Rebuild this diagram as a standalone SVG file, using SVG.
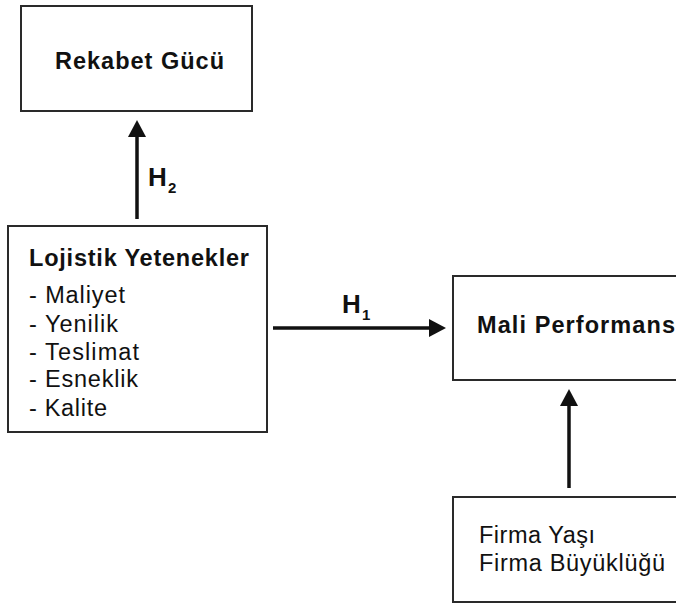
<svg xmlns="http://www.w3.org/2000/svg" width="676" height="603" viewBox="0 0 676 603">
<style>
.box{fill:#fff;stroke:#2a2a2a;stroke-width:2}
.t{font-family:"Liberation Sans",Arial,Helvetica,sans-serif;fill:#111;font-size:23.5px}
.b{font-weight:bold}
.h{font-family:"Liberation Sans",Arial,Helvetica,sans-serif;fill:#111;font-weight:bold;font-size:26px}
.sub{font-size:15px}
.con{stroke:#111;stroke-width:3.5;fill:none;marker-end:url(#ah)}
</style>
<defs>
<marker id="ah" markerUnits="userSpaceOnUse" markerWidth="17" markerHeight="18" refX="0" refY="9" orient="auto">
<path d="M0,0 L17,9 L0,18 z" fill="#111"/>
</marker>
</defs>
<rect width="676" height="603" fill="#fff"/>
<g id="connectors">
<line class="con" x1="137" y1="219" x2="137" y2="137"/>
<line class="con" x1="273" y1="328" x2="429" y2="328"/>
<line class="con" x1="569" y1="488" x2="569" y2="406"/>
<text class="h" x="148" y="186">H<tspan class="sub" x="168" y="193">2</tspan></text>
<text class="h" x="342" y="313">H<tspan class="sub" x="362" y="320">1</tspan></text>
</g>
<g id="rekabet">
<rect class="box" x="21" y="6" width="231" height="105"/>
<text class="t b" x="55" y="69" textLength="169" lengthAdjust="spacing">Rekabet Gücü</text>
</g>
<g id="lojistik">
<rect class="box" x="8" y="226" width="259" height="206"/>
<text class="t b" x="29" y="266" textLength="220" lengthAdjust="spacing">Lojistik Yetenekler</text>
<text class="t" x="29" y="303" textLength="96" lengthAdjust="spacing">- Maliyet</text>
<text class="t" x="29" y="332" textLength="89" lengthAdjust="spacing">- Yenilik</text>
<text class="t" x="29" y="360" textLength="110" lengthAdjust="spacing">- Teslimat</text>
<text class="t" x="29" y="387" textLength="109" lengthAdjust="spacing">- Esneklik</text>
<text class="t" x="29" y="416" textLength="78" lengthAdjust="spacing">- Kalite</text>
</g>
<g id="mali">
<rect class="box" x="453" y="276" width="240" height="104"/>
<text class="t b" x="477" y="333" textLength="198" lengthAdjust="spacing">Mali Performans</text>
</g>
<g id="firma">
<rect class="box" x="453" y="497" width="240" height="105"/>
<text class="t" x="479" y="543" textLength="116" lengthAdjust="spacing">Firma Yaşı</text>
<text class="t" x="479" y="571" textLength="186" lengthAdjust="spacing">Firma Büyüklüğü</text>
</g>
</svg>
